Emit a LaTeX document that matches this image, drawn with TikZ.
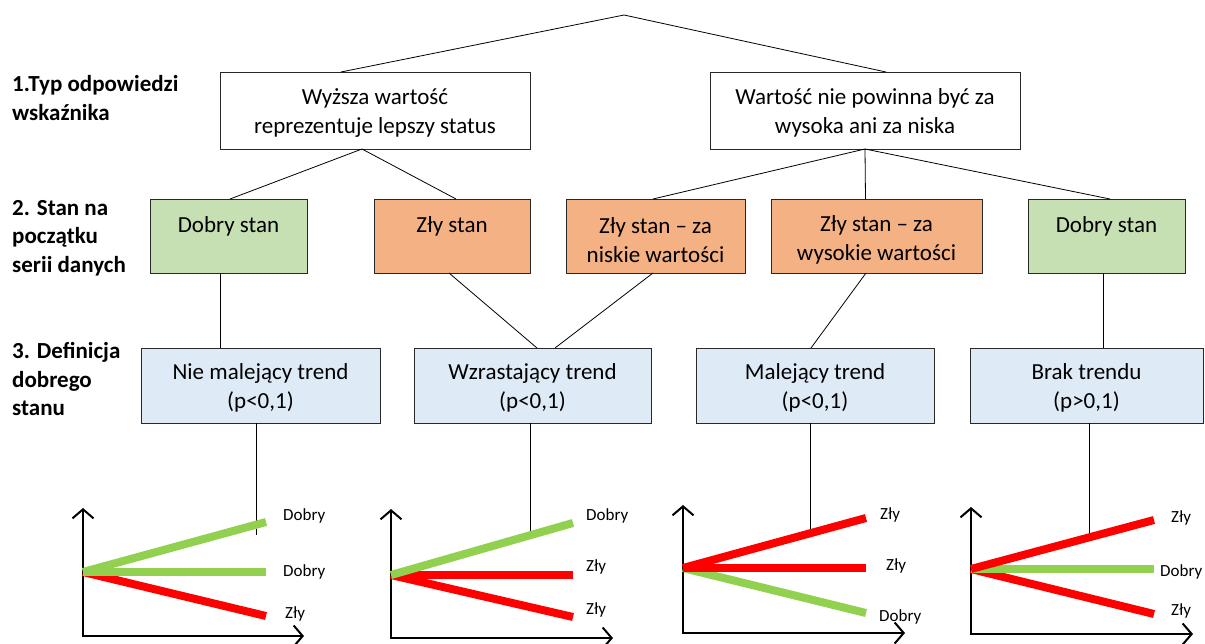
\documentclass[tikz,border=0pt]{standalone}
\usepackage{fontspec}
\setmainfont{Carlito}
\usetikzlibrary{arrows.meta}
\definecolor{boxgreen}{RGB}{198,224,180}
\definecolor{boxorange}{RGB}{244,177,131}
\definecolor{boxblue}{RGB}{222,235,247}
\definecolor{lgreen}{RGB}{146,208,80}
\definecolor{lred}{RGB}{255,0,0}
\definecolor{edge}{RGB}{40,40,40}
\begin{document}
\begin{tikzpicture}[x=1pt,y=-1pt,
  box/.style={draw=edge,line width=0.9pt,inner sep=0pt,outer sep=0pt},
  wbox/.style={box,fill=white,minimum height=77pt},
  gbox/.style={box,fill=boxgreen,minimum height=74pt},
  obox/.style={box,fill=boxorange,minimum height=74pt},
  bbox/.style={box,fill=boxblue,minimum height=75pt},
  btxt/.style={inner sep=0pt,align=center,font=\fontsize{23}{29}\selectfont},
  conn/.style={draw=black,line width=0.8pt},
  axis/.style={line width=2pt,{Straight Barb[length=9pt,width=21pt]}-{Straight Barb[length=9pt,width=21pt]}},
  trend/.style={line width=8pt},
  lab/.style={anchor=west,inner sep=0pt,font=\fontsize{17}{20}\selectfont},
  side/.style={anchor=west,inner sep=0pt,align=left,font=\bfseries\fontsize{23}{28.5}\selectfont}]
\useasboundingbox (0,0) rectangle (1205,643);
\fill[white] (0,0) rectangle (1205,643);

% side labels
\node[side] (l1) at (12,98) {1.Typ odpowiedzi\\wskaźnika};
\node[side] (l2) at (12,238) {2. Stan na\\początku\\serii danych};
\node[side] (l3) at (12,379) {3. Definicja\\dobrego\\stanu};

% level 1
\coordinate (top) at (624,15);
\node[wbox,minimum width=310pt] (b1) at (375,110.5) {};
\node[wbox,minimum width=310pt] (b2) at (865,110.5) {};
\node[btxt] (b1t) at (375,113) {Wyższa wartość\\reprezentuje lepszy status};
\node[btxt] (b2t) at (865,113) {Wartość nie powinna być za\\wysoka ani za niska};

% level 2
\node[gbox,minimum width=157pt] (s1) at (228.5,236) {};
\node[obox,minimum width=156pt] (s2) at (452,236) {};
\node[obox,minimum width=179pt] (s3) at (655.5,236) {};
\node[obox,minimum width=211pt] (s4) at (876.5,236) {};
\node[gbox,minimum width=157pt] (s5) at (1106.5,236) {};
\node[btxt] (s1t) at (228.5,226) {Dobry stan};
\node[btxt] (s2t) at (452,226) {Zły stan};
\node[btxt] (s3t) at (655.5,240) {Zły stan – za\\niskie wartości};
\node[btxt] (s4t) at (876.5,240) {Zły stan – za\\wysokie wartości};
\node[btxt] (s5t) at (1106.5,226) {Dobry stan};

% level 3
\node[bbox,minimum width=239pt] (d1) at (260.5,385.5) {};
\node[bbox,minimum width=237pt] (d2) at (532.5,385.5) {};
\node[bbox,minimum width=238pt] (d3) at (815,385.5) {};
\node[bbox,minimum width=233pt] (d4) at (1086.5,385.5) {};
\node[btxt] (d1t) at (260.5,388) {Nie malejący trend\\(p<0,1)};
\node[btxt] (d2t) at (532.5,388) {Wzrastający trend\\(p<0,1)};
\node[btxt] (d3t) at (815,388) {Malejący trend\\(p<0,1)};
\node[btxt] (d4t) at (1086.5,388) {Brak trendu\\(p>0,1)};

% connectors
\draw[conn] ([xshift=-34pt]b1.north) -- (top) -- ([xshift=21pt]b2.north);
\draw[conn] ([xshift=-13pt]b1.south) -- ([xshift=1.5pt]s1.north);
\draw[conn] ([xshift=-13pt]b1.south) -- ([xshift=4pt]s2.north);
\draw[conn] (b2.south) -- ([xshift=-2.5pt]s3.north);
\draw[conn] (b2.south) -- ([xshift=-11pt]s4.north);
\draw[conn] (b2.south) -- ([xshift=3.5pt]s5.north);
\draw[conn] ([xshift=-8.5pt]s1.south) -- ([xshift=-40.5pt]d1.north);
\draw[conn] ([xshift=-3pt]s2.south) -- ([xshift=4.5pt]d2.north);
\draw[conn] ([xshift=-2.5pt]s3.south) -- ([xshift=22.5pt]d2.north);
\draw[conn] ([xshift=-10.5pt]s4.south) -- ([xshift=-4pt]d3.north);
\draw[conn] ([xshift=-3.5pt]s5.south) -- ([xshift=16.5pt]d4.north);

\coordinate (e1) at (256,535);
\coordinate (e2) at (530,533);
\coordinate (e3) at (810,534);
\coordinate (e4) at (1089,534);
\draw[conn] ([xshift=-4.5pt]d1.south) -- (e1);
\draw[conn] ([xshift=-2.5pt]d2.south) -- (e2);
\draw[conn] ([xshift=-5pt]d3.south) -- (e3);
\draw[conn] ([xshift=2.5pt]d4.south) -- (e4);

% chart 1
\draw[axis] (83,508) -- (83,636) -- (304,636);
\draw[trend,lred] (83,572) -- (266,616);
\draw[trend,lgreen] (83,572) -- (266,572);
\draw[trend,lgreen] (83,572) -- (266,522);
\node[lab] (c1a) at (283,516) {Dobry};
\node[lab] (c1b) at (283,572) {Dobry};
\node[lab] (c1c) at (285,614) {Zły};

% chart 2
\draw[axis] (391,509) -- (391,638) -- (613,638);
\draw[trend,lred] (391,575) -- (573,617);
\draw[trend,lred] (391,575) -- (573,575);
\draw[trend,lgreen] (391,575) -- (573,523);
\node[lab] (c2a) at (586,516) {Dobry};
\node[lab] (c2b) at (586,567) {Zły};
\node[lab] (c2c) at (586,610) {Zły};

% chart 3
\draw[axis] (683,505) -- (683,633) -- (905,633);
\draw[trend,lgreen] (683,568) -- (866,613);
\draw[trend,lred] (683,568) -- (866,568);
\draw[trend,lred] (683,568) -- (866,518);
\node[lab] (c3a) at (880,515) {Zły};
\node[lab] (c3b) at (886,566) {Zły};
\node[lab] (c3c) at (879,617) {Dobry};

% chart 4
\draw[axis] (971,507) -- (971,634) -- (1193,634);
\draw[trend,lred] (971,569) -- (1154,614);
\draw[trend,lgreen] (971,569) -- (1154,569);
\draw[trend,lred] (971,569) -- (1154,520);
\node[lab] (c4a) at (1171,518) {Zły};
\node[lab] (c4b) at (1160,572) {Dobry};
\node[lab] (c4c) at (1171,611) {Zły};
\end{tikzpicture}
\end{document}
